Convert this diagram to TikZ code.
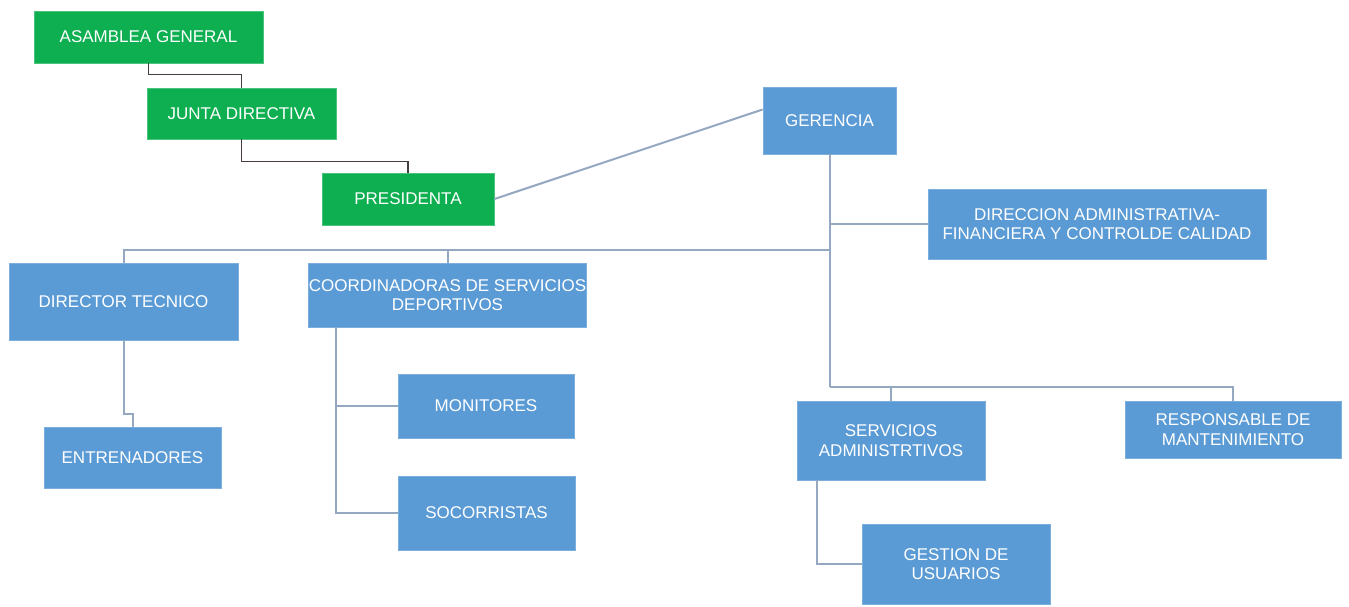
\documentclass[tikz,border=0pt]{standalone}
\usepackage{fontspec}
\setmainfont{Liberation Sans}
\definecolor{gfill}{HTML}{0DAF50}
\definecolor{bfill}{HTML}{5B9BD5}
\definecolor{bline}{HTML}{95A8C2}
\definecolor{dline}{HTML}{453C45}
\begin{document}
\begin{tikzpicture}[x=1pt,y=-1pt,
  base/.style={rectangle, inner sep=0pt, text=white, align=center,
    font=\fontsize{17pt}{19.5pt}\selectfont, line width=0.8pt},
  gbox/.style={base, fill=gfill, draw=gfill!75!white},
  bbox/.style={base, fill=bfill, draw=bfill!80!white},
  dconn/.style={draw=dline, line width=1.8pt},
  bconn/.style={draw=bline, line width=2pt}]
\useasboundingbox (0,0) rectangle (1349,606);
\fill[white] (0,0) rectangle (1349,606);
% green chain
\node[gbox, minimum width=229pt, minimum height=52pt] (asam) at (148.5,37) {ASAMBLEA GENERAL};
\node[gbox, minimum width=189pt, minimum height=51pt] (junta) at (241.5,113.5) {JUNTA DIRECTIVA};
\node[gbox, minimum width=172pt, minimum height=52pt] (pres) at (408,199) {PRESIDENTA};
% blue boxes
\node[bbox, minimum width=133pt, minimum height=67pt] (ger) at (829.5,120.5) {GERENCIA};
\node[bbox, minimum width=338pt, minimum height=70pt] (dir) at (1097,224) {DIRECCION ADMINISTRATIVA-\\FINANCIERA Y CONTROLDE CALIDAD};
\node[bbox, minimum width=229pt, minimum height=77pt] (dt) at (123.5,301.5) {DIRECTOR TECNICO};
\node[bbox, minimum width=277pt, minimum height=64pt] (cd) at (447.5,295) {COORDINADORAS DE SERVICIOS\\DEPORTIVOS};
\node[bbox, minimum width=176pt, minimum height=64pt] (mon) at (486,406) {MONITORES};
\node[bbox, minimum width=177pt, minimum height=74pt] (soc) at (486.5,513) {SOCORRISTAS};
\node[bbox, minimum width=177pt, minimum height=61pt] (ent) at (132.5,457.5) {ENTRENADORES};
\node[bbox, minimum width=188pt, minimum height=79pt] (sa) at (891,440.5) {SERVICIOS\\ADMINISTRTIVOS};
\node[bbox, minimum width=216pt, minimum height=57pt] (resp) at (1233,429.5) {RESPONSABLE DE\\MANTENIMIENTO};
\node[bbox, minimum width=188pt, minimum height=80pt] (ges) at (956,564) {GESTION DE\\USUARIOS};
% junction coordinates
\coordinate (b1) at (829,250);
\coordinate (b2) at (829,387);
\coordinate (cdl) at (336,327);
\coordinate (sal) at (817,480);
% dark connectors
\draw[dconn] (asam.south) -- ++(0,11) -| (junta.north);
\draw[dconn] (junta.south) -- ++(0,22) -| (pres.north);
% blue connectors
\draw[bconn] (pres.east) -- ([yshift=11pt]ger.west);
\draw[bconn] (ger.south) -- (ger.south |- b2);
\draw[bconn] (ger.south |- dir.west) -- (dir.west);
\draw[bconn] (ger.south |- b1) -| (dt.north);
\draw[bconn] (cd.north |- b1) -- (cd.north);
\draw[bconn] (ger.south |- b2) -| (sa.north);
\draw[bconn] (ger.south |- b2) -| (resp.north);
\draw[bconn] (dt.south) -- ++(0,74) -| (ent.north);
\draw[bconn] (cdl) |- (mon.west);
\draw[bconn] (cdl) |- (soc.west);
\draw[bconn] (sal) |- (ges.west);
\end{tikzpicture}
\end{document}
